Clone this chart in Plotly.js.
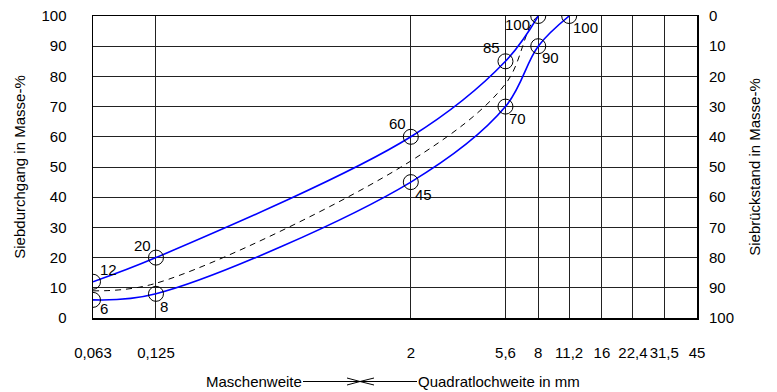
<!DOCTYPE html>
<html><head><meta charset="utf-8">
<script src="https://cdn.plot.ly/plotly-3.0.1.min.js"></script>
<style>html,body{margin:0;padding:0;background:#fff}#chart{width:777px;height:392px}</style>
</head><body><div id="chart"></div>
<script>
const sieveSizes = [0.063, 0.125, 2, 5.6, 8, 11.2, 16, 22.4, 31.5, 45];
const sieveLabels = ['0,063', '0,125', '2', '5,6', '8', '11,2', '16', '22,4', '31,5', '45'];
const upperX = [0.063, 0.125, 2, 5.6, 8];
const upperY = [12, 20, 60, 85, 100];
const upperLabels = ['12', '20', '60', '85', '100'];
const lowerX = [0.063, 0.125, 2, 5.6, 8, 11.2];
const lowerY = [6, 8, 45, 70, 90, 100];
const lowerLabels = ['6', '8', '45', '70', '90', '100'];
const midX = [0.063, 0.125, 2, 5.6, 8, 11.2];
const midY = [9, 11.5, 52, 77.5, 100, 100];
const passTicks = [0, 10, 20, 30, 40, 50, 60, 70, 80, 90, 100];
const retainedTicks = [0, 10, 20, 30, 40, 50, 60, 70, 80, 90, 100];

// label offsets (pixels) relative to each point: style only
const upperShift = [[15, -12], [-13.5, -12.5], [-13, -13], [-13.5, -14], [-20.5, 8]];
const lowerShift = [[10.5, 9], [8, 13], [13, 12], [12, 12], [12.5, 11], [16.5, 11.5]];

const FONT = 'Liberation Sans, Arial, sans-serif';
const font = {family: FONT, size: 15, color: '#000'};

const traces = [
  {x: midX, y: midY, mode: 'lines', line: {color: '#000', width: 1, dash: '6px,5px', shape: 'spline', smoothing: 1}, hoverinfo: 'skip', showlegend: false},
  {x: upperX, y: upperY, mode: 'lines+markers',
   line: {color: '#0000ff', width: 1.6, shape: 'spline', smoothing: 1},
   marker: {symbol: 'circle-open', size: 15, color: '#000', line: {width: 1}}, showlegend: false},
  {x: lowerX, y: lowerY, mode: 'lines+markers',
   line: {color: '#0000ff', width: 1.6, shape: 'spline', smoothing: 1},
   marker: {symbol: 'circle-open', size: 15, color: '#000', line: {width: 1}}, showlegend: false},
  {x: [sieveSizes[0]], y: [0], yaxis: 'y2', mode: 'markers', marker: {opacity: 0}, hoverinfo: 'skip', showlegend: false}
];

const xp = px => (px - 93) / 604;
const yp = py => (318 - py) / 302;

const pointLabels = [];
upperX.forEach((v, i) => pointLabels.push({x: Math.log10(v), y: upperY[i], xref: 'x', yref: 'y', text: upperLabels[i],
  showarrow: false, font: font, xanchor: 'center', yanchor: 'middle', xshift: upperShift[i][0], yshift: -upperShift[i][1], borderpad: 0}));
lowerX.forEach((v, i) => pointLabels.push({x: Math.log10(v), y: lowerY[i], xref: 'x', yref: 'y', text: lowerLabels[i],
  showarrow: false, font: font, xanchor: 'center', yanchor: 'middle', xshift: lowerShift[i][0], yshift: -lowerShift[i][1], borderpad: 0}));

const layout = {
  width: 777, height: 392,
  margin: {l: 93, r: 80, t: 16, b: 74},
  paper_bgcolor: '#fff', plot_bgcolor: '#fff',
  font: font,
  xaxis: {type: 'log', range: [Math.log10(sieveSizes[0]), Math.log10(sieveSizes[sieveSizes.length - 1])],
    tickvals: sieveSizes, ticktext: sieveLabels, tickfont: font,
    showgrid: true, gridcolor: '#222', gridwidth: 1, zeroline: false,
    showline: true, mirror: true, linecolor: '#000', linewidth: 1.5,
    ticks: '', ticklabelstandoff: 20},
  yaxis: {range: [0, 100], tickvals: passTicks, tickfont: font,
    showgrid: true, gridcolor: '#222', gridwidth: 1, zeroline: false,
    showline: true, mirror: true, linecolor: '#000', linewidth: 1.5,
    ticks: '', ticklabelstandoff: 22,
    title: {text: 'Siebdurchgang in Masse-%', font: font, standoff: 12}},
  yaxis2: {overlaying: 'y', side: 'right', range: [100, 0], tickvals: retainedTicks, tickfont: font,
    showgrid: false, zeroline: false, showline: false, ticks: '', ticklabelstandoff: 11,
    title: {text: 'Siebrückstand in Masse-%', font: font, standoff: 16}},
  annotations: pointLabels.concat([
    {xref: 'paper', yref: 'paper', x: xp(303), y: yp(381.5), xanchor: 'right', yanchor: 'middle', text: 'Maschenweite', showarrow: false, font: font, borderpad: 0},
    {xref: 'paper', yref: 'paper', x: xp(417), y: yp(381.5), xanchor: 'left', yanchor: 'middle', text: 'Quadratlochweite in mm', showarrow: false, font: font, borderpad: 0}
  ]),
  shapes: [
    {type: 'line', xref: 'paper', yref: 'paper', x0: xp(303), x1: xp(360), y0: yp(381.5), y1: yp(381.5), line: {color: '#000', width: 1}},
    {type: 'line', xref: 'paper', yref: 'paper', x0: xp(360), x1: xp(417), y0: yp(381.5), y1: yp(381.5), line: {color: '#000', width: 1}},
    {type: 'path', xref: 'paper', yref: 'paper', path: `M ${xp(347)} ${yp(378)} L ${xp(360)} ${yp(381.5)} L ${xp(347)} ${yp(385)}`, line: {color: '#000', width: 1}},
    {type: 'path', xref: 'paper', yref: 'paper', path: `M ${xp(374)} ${yp(378)} L ${xp(360)} ${yp(381.5)} L ${xp(374)} ${yp(385)}`, line: {color: '#000', width: 1}}
  ]
};

Plotly.newPlot('chart', traces, layout, {displayModeBar: false, staticPlot: true});
</script>
</body></html>
